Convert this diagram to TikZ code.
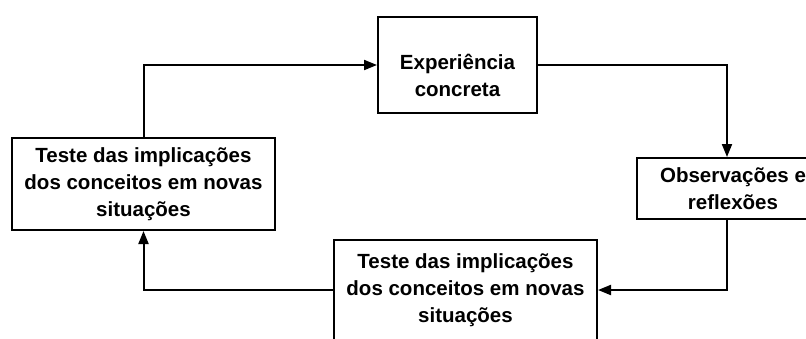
\documentclass[tikz,border=0pt]{standalone}
\usepackage{fontspec}
\setmainfont{Liberation Sans}
\usepackage{tikz}
\usetikzlibrary{arrows.meta}

\begin{document}
\begin{tikzpicture}[x=1pt, y=-1pt, line width=2pt, >={Triangle[length=13pt,width=10pt]},
  every node/.style={align=center, inner sep=0pt, font=\fontsize{20.5}{27}\selectfont\bfseries},
  box/.style={rectangle, draw}]

\useasboundingbox (0,0) rectangle (806,338);
\clip (0,0) rectangle (806,338);

% Boxes of the cycle
\node[box, minimum width=159pt, minimum height=96pt] (E1) at (457.5,65) {}; % Top
\node (T1) at ([yshift=-10pt]E1.center) {Experiência\\concreta};
\node[box, minimum width=180pt, minimum height=61pt] (E2) at (727,188.5) {}; % Right
\node (T2) at ([xshift=6pt]E2.center) {Observações e\\reflexões};
\node[box, minimum width=263pt, minimum height=100pt] (E3) at (465.5,290) {Teste das implicações\\dos conceitos em novas\\situações}; % Bottom
\node[box, minimum width=263pt, minimum height=92pt] (E4) at (143.5,184) {Teste das implicações\\dos conceitos em novas\\situações}; % Left

% Connectors around the cycle
\draw[->] (E4.north) |- (E1.west);
\draw[->] (E1.east) -| (E2.north);
\draw[->] (E2.south) |- (E3.east);
\draw[->] (E3.west) -| (E4.south);
\end{tikzpicture}
\end{document}
